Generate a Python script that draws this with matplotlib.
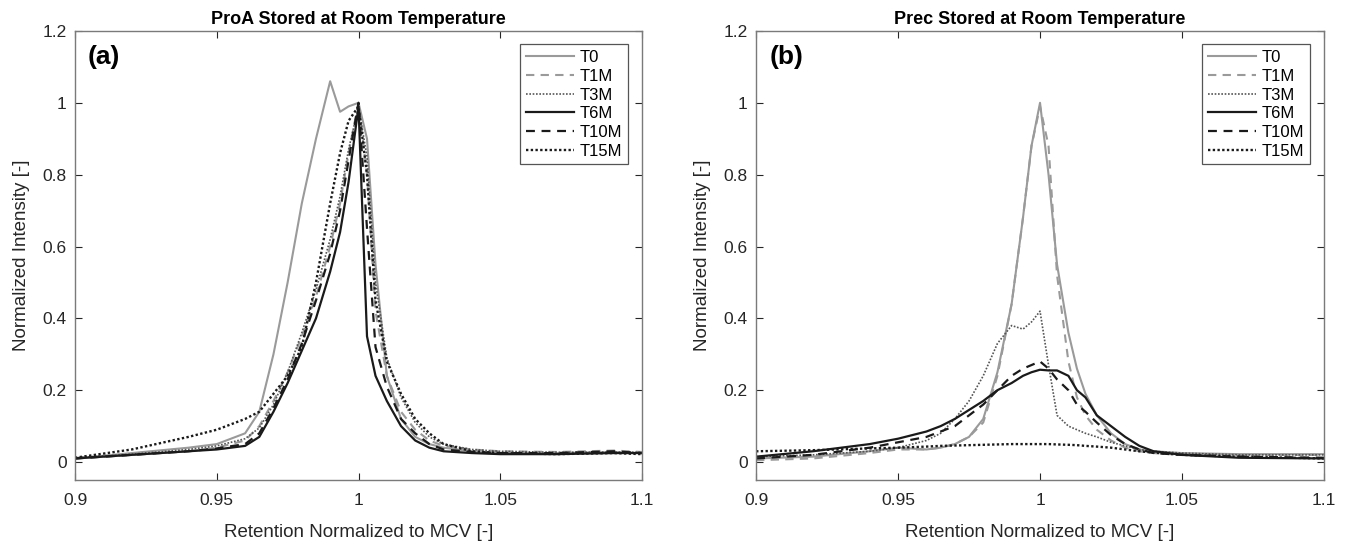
import matplotlib

matplotlib.use("Agg")

import matplotlib.pyplot as plt
from matplotlib.ticker import FuncFormatter

plt.rcParams["font.family"] = ["Liberation Sans", "DejaVu Sans"]

labels = ["T0", "T1M", "T3M", "T6M", "T10M", "T15M"]

# panel (a): ProA
x_a = [0.9, 0.92, 0.94, 0.95, 0.96, 0.965, 0.97, 0.975, 0.98, 0.985, 0.99, 0.9935,
       0.9965, 1.0, 1.003, 1.006, 1.01, 1.015, 1.02, 1.025, 1.03, 1.04, 1.05, 1.07,
       1.09, 1.1]
t0_a = [0.01, 0.025, 0.04, 0.05, 0.08, 0.14, 0.30, 0.50, 0.72, 0.90, 1.06, 0.975,
        0.99, 1.0, 0.90, 0.55, 0.24, 0.12, 0.07, 0.05, 0.04, 0.03, 0.025, 0.025,
        0.028, 0.025]
t1m_a = [0.01, 0.02, 0.03, 0.04, 0.06, 0.10, 0.17, 0.25, 0.35, 0.46, 0.60, 0.72,
         0.86, 1.0, 0.80, 0.42, 0.24, 0.14, 0.09, 0.06, 0.045, 0.035, 0.03, 0.028,
         0.032, 0.028]
t3m_a = [0.012, 0.022, 0.035, 0.045, 0.065, 0.095, 0.16, 0.25, 0.36, 0.48, 0.62,
         0.74, 0.87, 0.99, 0.85, 0.50, 0.29, 0.18, 0.11, 0.07, 0.05, 0.035, 0.03,
         0.027, 0.028, 0.027]
t6m_a = [0.01, 0.02, 0.03, 0.035, 0.045, 0.07, 0.14, 0.22, 0.31, 0.40, 0.53, 0.64,
         0.78, 0.99, 0.35, 0.24, 0.17, 0.10, 0.06, 0.04, 0.03, 0.025, 0.022, 0.022,
         0.025, 0.025]
t10m_a = [0.01, 0.02, 0.03, 0.038, 0.05, 0.08, 0.15, 0.23, 0.33, 0.45, 0.58, 0.70,
          0.84, 1.0, 0.65, 0.32, 0.21, 0.12, 0.08, 0.05, 0.035, 0.028, 0.025, 0.025,
          0.03, 0.025]
t15m_a = [0.012, 0.035, 0.07, 0.09, 0.12, 0.14, 0.19, 0.24, 0.32, 0.50, 0.72, 0.86,
          0.95, 0.99, 0.80, 0.45, 0.28, 0.19, 0.12, 0.08, 0.05, 0.03, 0.025, 0.022,
          0.025, 0.022]

# panel (b): Prec
x_b = [0.9, 0.92, 0.94, 0.95, 0.96, 0.965, 0.97, 0.975, 0.98, 0.985, 0.99, 0.994,
       0.997, 1.0, 1.003, 1.006, 1.01, 1.013, 1.016, 1.02, 1.025, 1.03, 1.035, 1.04,
       1.05, 1.07, 1.1]
t0_b = [0.01, 0.015, 0.03, 0.04, 0.035, 0.04, 0.05, 0.07, 0.12, 0.25, 0.44, 0.68,
        0.88, 1.0, 0.80, 0.55, 0.36, 0.26, 0.19, 0.13, 0.08, 0.05, 0.035, 0.03,
        0.025, 0.022, 0.022]
t1m_b = [0.005, 0.01, 0.025, 0.035, 0.035, 0.04, 0.05, 0.07, 0.11, 0.24, 0.44, 0.68,
         0.88, 0.99, 0.88, 0.52, 0.28, 0.18, 0.13, 0.09, 0.06, 0.04, 0.03, 0.025,
         0.02, 0.02, 0.02]
t3m_b = [0.015, 0.02, 0.03, 0.04, 0.06, 0.08, 0.12, 0.17, 0.24, 0.33, 0.38, 0.37,
         0.39, 0.42, 0.27, 0.13, 0.10, 0.09, 0.08, 0.07, 0.055, 0.045, 0.035, 0.03,
         0.025, 0.02, 0.02]
t6m_b = [0.015, 0.03, 0.05, 0.065, 0.085, 0.10, 0.12, 0.145, 0.17, 0.20, 0.22, 0.24,
         0.25, 0.257, 0.255, 0.255, 0.24, 0.20, 0.18, 0.13, 0.10, 0.07, 0.045, 0.03,
         0.02, 0.012, 0.01]
t10m_b = [0.01, 0.02, 0.04, 0.055, 0.07, 0.085, 0.10, 0.13, 0.16, 0.20, 0.24, 0.26,
          0.27, 0.28, 0.26, 0.23, 0.20, 0.16, 0.14, 0.11, 0.075, 0.05, 0.035, 0.025,
          0.02, 0.015, 0.012]
t15m_b = [0.03, 0.033, 0.038, 0.04, 0.043, 0.045, 0.046, 0.047, 0.048, 0.049, 0.05,
          0.05, 0.05, 0.05, 0.05, 0.049, 0.048, 0.047, 0.045, 0.043, 0.04, 0.035,
          0.03, 0.026, 0.02, 0.015, 0.01]

gray = "#9a9a9a"
styles = [
    dict(color=gray, linestyle="-", linewidth=1.5),
    dict(color=gray, linestyle=(0, (4, 3)), linewidth=1.5),
    dict(color="#555555", linestyle=(0, (1, 1)), linewidth=1.2),
    dict(color="#1a1a1a", linestyle="-", linewidth=1.6),
    dict(color="#1a1a1a", linestyle=(0, (4, 3)), linewidth=1.6),
    dict(color="#1a1a1a", linestyle=(0, (1, 1)), linewidth=1.7),
]

panels = [
    ("ProA Stored at Room Temperature", "(a)", x_a,
     [t0_a, t1m_a, t3m_a, t6m_a, t10m_a, t15m_a]),
    ("Prec Stored at Room Temperature", "(b)", x_b,
     [t0_b, t1m_b, t3m_b, t6m_b, t10m_b, t15m_b]),
]

fig = plt.figure(figsize=(13.47, 5.43), dpi=100)
ax_a = fig.add_axes([0.0557, 0.116, 0.4209, 0.827])
ax_b = fig.add_axes([0.5613, 0.116, 0.4216, 0.827])

fmt = FuncFormatter(lambda v, p: f"{v:g}")

for ax, (title, tag, x, series) in zip([ax_a, ax_b], panels):
    for y, lab, st in zip(series, labels, styles):
        ax.plot(x, y, label=lab, **st)
    ax.set_xlim(0.9, 1.1)
    ax.set_ylim(-0.05, 1.2)
    ax.set_xticks([0.9, 0.95, 1.0, 1.05, 1.1])
    ax.set_yticks([0, 0.2, 0.4, 0.6, 0.8, 1.0, 1.2])
    ax.xaxis.set_major_formatter(fmt)
    ax.yaxis.set_major_formatter(fmt)
    ax.tick_params(direction="in", labelsize=12.5, length=5, color="#262626",
                   top=True, right=True, labelcolor="#262626")
    ax.tick_params(axis="x", pad=9)
    ax.tick_params(axis="y", pad=6)
    for sp in ax.spines.values():
        sp.set_color("#7a7a7a")
        sp.set_linewidth(1.0)
    ax.set_title(title, fontsize=13, fontweight="bold", pad=5)
    ax.set_xlabel("Retention Normalized to MCV [-]", fontsize=13.5, labelpad=12,
                  color="#262626")
    ax.set_ylabel("Normalized Intensity [-]", fontsize=13.5, labelpad=9,
                  color="#262626")
    ax.text(0.023, 0.968, tag, transform=ax.transAxes, fontsize=19,
            fontweight="bold", va="top", ha="left")
    leg = ax.legend(loc="upper right", fontsize=12, handlelength=2.9,
                    fancybox=False, framealpha=1, edgecolor="#555555",
                    borderpad=0.35, labelspacing=0.22, handletextpad=0.3,
                    borderaxespad=0, bbox_to_anchor=(0.975, 0.97))
    leg.get_frame().set_linewidth(0.9)

fig.savefig("out.png", dpi=100)
